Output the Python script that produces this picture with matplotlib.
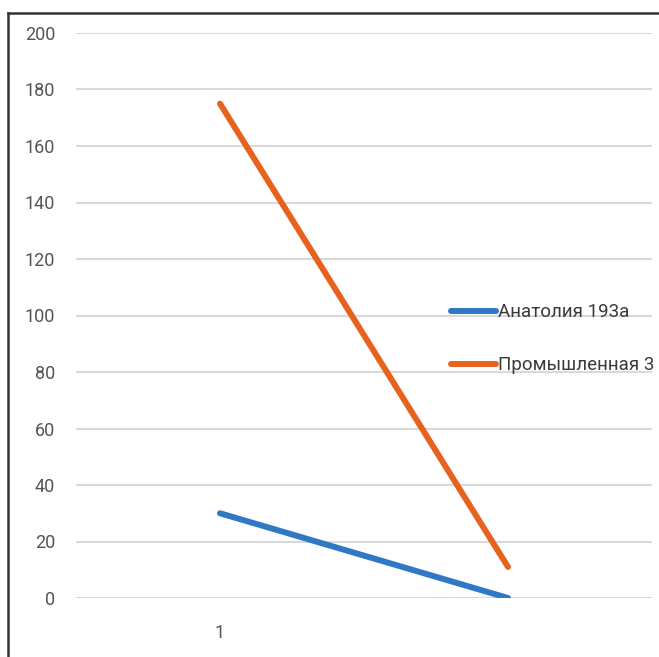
import matplotlib.pyplot as plt
from matplotlib.lines import Line2D

categories = ["1", ""]
series_names = ["Анатолия 193а", "Промышленная 3"]
anatolia = [30, 0]
promyshlennaya = [175, 11]
y_ticks = list(range(0, 201, 20))

colors = ["#2E78C4", "#E8621F"]

plt.rcParams['font.family'] = ['Roboto', 'DejaVu Sans']

fig = plt.figure(figsize=(6.59, 6.57), dpi=100)
ax = fig.add_axes([76 / 659, 1 - 598 / 657, (652 - 76) / 659, (598 - 33) / 657])

x = list(range(1, len(categories) + 1))
for vals, name, c in zip([anatolia, promyshlennaya], series_names, colors):
    ax.plot(x, vals, color=c, lw=4.3, solid_capstyle='round', label=name, zorder=3)

ax.set_xlim(0.5, 2.5)
ax.set_ylim(0, 200)
ax.set_yticks(y_ticks)
ax.set_yticklabels([str(t) for t in y_ticks], fontsize=13, color="#555555")
ax.set_xticks(x)
ax.set_xticklabels(categories, fontsize=13, color="#555555")
ax.tick_params(axis='both', length=0)
ax.tick_params(axis='y', pad=15)
ax.tick_params(axis='x', pad=19)
ax.grid(axis='y', color="#D9D9D9", lw=1.5, zorder=0)
for s in ax.spines.values():
    s.set_visible(False)

ax.legend(loc='upper left', bbox_to_anchor=(367 / 576, (598 - 296) / 565),
          frameon=False, fontsize=13.5, handlelength=2.4, handletextpad=0.15,
          labelspacing=1.85, borderaxespad=0, labelcolor="#3A3A3A")

# outer chart frame (left and top edges)
fig.add_artist(Line2D([8 / 659, 8 / 659], [0, 1 - 13 / 657], transform=fig.transFigure,
                      color="#333333", lw=1.8))
fig.add_artist(Line2D([8 / 659, 1], [1 - 13 / 657, 1 - 13 / 657], transform=fig.transFigure,
                      color="#333333", lw=1.8))

fig.savefig("out.png", dpi=100)
